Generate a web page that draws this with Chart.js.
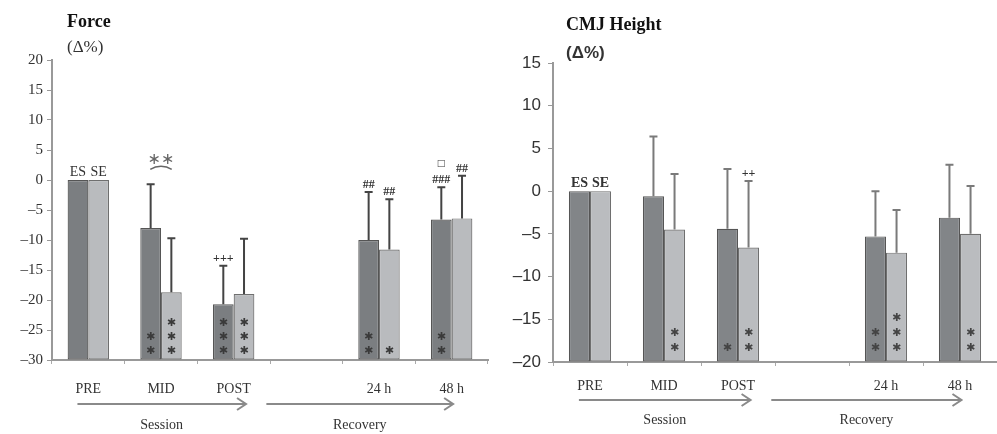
<!DOCTYPE html>
<html>
<head>
<meta charset="utf-8">
<script src="https://cdn.jsdelivr.net/npm/chart.js@4.4.1/dist/chart.umd.min.js"></script>
<style>
  body { margin: 0; background: #fff; }
  .wrap { position: absolute; top: 0; height: 434px; }
</style>
</head>
<body>
<div class="wrap" style="left:0;width:497px"><canvas id="force"></canvas></div>
<div class="wrap" style="left:497px;width:500px"><canvas id="cmj"></canvas></div>
<script>
// categories (empty slot between session and recovery)
const labels = ['PRE', 'MID', 'POST', '', '24 h', '48 h']

// Force (Δ%)
const forceES = [0, -8, -20.7, null, -10, -6.6]
const forceSE = [0, -18.7, -19, null, -11.6, -6.4]
const forceErrES = [0, 7.3, 6.4, null, 8, 5.4]
const forceErrSE = [0, 9, 9.2, null, 8.4, 7.1]
const forceTicks = [-30, -25, -20, -15, -10, -5, 0, 5, 10, 15, 20]
const forceMarkES = ['ES', '', '+++', '', '##', '□\n###']
const forceMarkSE = ['SE', '', '', '', '##', '##']
const forcePair = ['', '**', '', '', '', '']
const forceStarsES = [0, 2, 3, 0, 2, 2]
const forceStarsSE = [0, 3, 3, 0, 1, 0]

// CMJ Height (Δ%)
const cmjES = [0, -0.6, -4.4, null, -5.3, -3.1]
const cmjSE = [0, -4.5, -6.6, null, -7.2, -5]
const cmjErrES = [0, 7, 7, null, 5.3, 6.2]
const cmjErrSE = [0, 6.5, 7.8, null, 5, 5.6]
const cmjTicks = [-20, -15, -10, -5, 0, 5, 10, 15]
const cmjMarkES = ['ES', '', '', '', '', '']
const cmjMarkSE = ['SE', '', '++', '', '', '']
const cmjPair = ['', '', '', '', '', '']
const cmjStarsES = [0, 0, 1, 0, 2, 0]
const cmjStarsSE = [0, 2, 2, 0, 3, 2]

const groups = [
  { text: 'Session', from: -0.15, to: 2.17 },
  { text: 'Recovery', from: 2.45, to: 5.02 }
]

const serif = '"Liberation Serif", "DejaVu Serif", serif'
const sans = '"Liberation Sans", "DejaVu Sans", sans-serif'

function dash(v) {
  return v < 0 ? '\u2013' + Math.abs(v) : '' + v
}

// error bars, significance marks, titles and the arrows under the axis
const extras = {
  id: 'extras',
  afterDatasetsDraw(chart, args, o) {
    const ctx = chart.ctx
    const y = chart.scales.y
    const x = chart.scales.x
    const area = chart.chartArea
    const caps = [[], []]
    ctx.save()
    chart.data.datasets.forEach(function(ds, d) {
      const meta = chart.getDatasetMeta(d)
      meta.data.forEach(function(bar, i) {
        if (ds.data[i] === null) return
        const top = y.getPixelForValue(ds.data[i] + ds.err[i])
        caps[d][i] = top
        if (ds.err[i] > 0) {
          ctx.strokeStyle = o.errColor
          ctx.lineWidth = 2
          ctx.beginPath()
          ctx.moveTo(bar.x, bar.y)
          ctx.lineTo(bar.x, top)
          ctx.moveTo(bar.x - 4, top)
          ctx.lineTo(bar.x + 4, top)
          ctx.stroke()
        }
        // marks above
        const lines = ds.marks[i].split('\n').filter(function(s) { return s })
        ctx.fillStyle = '#333'
        ctx.textAlign = 'center'
        ctx.textBaseline = 'alphabetic'
        lines.reverse().forEach(function(t, k) {
          if (t === 'ES' || t === 'SE') {
            ctx.font = o.esFont
          } else {
            ctx.font = 'bold 12px ' + serif
          }
          ctx.fillText(t, bar.x, top - 4 - k * 16)
        })
        // stars inside the bar
        ctx.font = '11px "DejaVu Sans"'
        ctx.fillStyle = o.starColor
        ctx.textBaseline = 'middle'
        for (let k = 0; k < ds.stars[i]; k++) {
          ctx.fillText('\u2731', bar.x, area.bottom - o.starBottom - k * o.starGap)
        }
      })
    })
    // pair comparison mark
    o.pair.forEach(function(t, i) {
      if (!t) return
      const cx = x.getPixelForValue(i)
      const top = Math.min(caps[0][i], caps[1][i])
      ctx.strokeStyle = '#666'
      ctx.lineWidth = 1.5
      ctx.beginPath()
      ctx.arc(cx, top + 2, 20, Math.PI * 1.32, Math.PI * 1.68)
      ctx.stroke()
      ctx.fillStyle = '#666'
      ctx.font = '16px "DejaVu Sans"'
      ctx.textAlign = 'center'
      ctx.textBaseline = 'alphabetic'
      ctx.fillText(t.replace(/\*/g, '\u2217'), cx, top - 20)
    })
    // arrows and group names
    groups.forEach(function(g) {
      const x1 = x.getPixelForValue(g.from)
      const x2 = x.getPixelForValue(g.to)
      const ay = o.arrowY
      ctx.strokeStyle = '#8a8a8a'
      ctx.lineWidth = 2
      ctx.beginPath()
      ctx.moveTo(x1, ay)
      ctx.lineTo(x2, ay)
      ctx.moveTo(x2 - 9, ay - 6)
      ctx.lineTo(x2, ay)
      ctx.lineTo(x2 - 9, ay + 6)
      ctx.stroke()
      ctx.fillStyle = '#333'
      ctx.font = '14px ' + serif
      ctx.textAlign = 'center'
      ctx.textBaseline = 'middle'
      ctx.fillText(g.text, (x1 + x2) / 2, o.groupY)
    })
    // title
    ctx.fillStyle = '#111'
    ctx.textAlign = 'left'
    ctx.textBaseline = 'middle'
    ctx.font = 'bold 18px ' + serif
    ctx.fillText(o.title, o.titleX, o.titleY)
    ctx.font = o.unitFont
    ctx.fillStyle = '#333'
    ctx.fillText('(\u0394%)', o.titleX, o.titleY + o.unitGap)
    ctx.restore()
  }
}

function makeChart(id, es, se, errES, errSE, markES, markSE, stars1, stars2, ticks, opt) {
  const min = ticks[0]
  const max = ticks[ticks.length - 1]
  return new Chart(document.getElementById(id), {
    type: 'bar',
    data: {
      labels: labels,
      datasets: [
        { label: 'ES', data: es, err: errES, marks: markES, stars: stars1, base: min,
          backgroundColor: opt.colES, borderColor: '#555', borderWidth: 1.2, borderSkipped: false },
        { label: 'SE', data: se, err: errSE, marks: markSE, stars: stars2, base: min,
          backgroundColor: opt.colSE, borderColor: '#6f6f6f', borderWidth: 1.2, borderSkipped: false }
      ]
    },
    options: {
      responsive: true,
      maintainAspectRatio: false,
      animation: false,
      layout: { padding: { left: 0, right: opt.padRight, top: opt.top, bottom: 0 } },
      datasets: { bar: { categoryPercentage: 0.57, barPercentage: 1 } },
      plugins: {
        legend: { display: false },
        tooltip: { enabled: false },
        extras: opt.extras
      },
      scales: {
        x: {
          grid: { display: true, drawOnChartArea: false, drawTicks: true, tickLength: 4, color: '#aaa', offset: true },
          border: { display: true, color: '#999', width: 2 },
          ticks: { color: '#333', font: { family: serif, size: 14 }, padding: opt.labelPad, maxRotation: 0, autoSkip: false },
          afterFit: function(s) { s.height = 434 - opt.bottom }
        },
        y: {
          min: min,
          max: max,
          grid: { drawOnChartArea: false, drawTicks: true, tickLength: 5, color: '#999' },
          border: { display: true, color: '#999', width: 2 },
          ticks: { stepSize: 5, color: '#333', font: opt.tickFont, padding: opt.tickPad,
            callback: function(v) { return dash(v) } },
          afterFit: function(s) { s.width = opt.left }
        }
      }
    },
    plugins: [extras]
  })
}

makeChart('force', forceES, forceSE, forceErrES, forceErrSE, forceMarkES, forceMarkSE,
  forceStarsES, forceStarsSE, forceTicks, {
    colES: '#7b7e81', colSE: '#b9bbbe', padRight: 9, top: 60, bottom: 360, left: 52,
    labelPad: 17, tickPad: 4, tickFont: { family: serif, size: 15 },
    extras: { errColor: '#444', starColor: '#3a3a3a', starBottom: 9, starGap: 14, pair: forcePair,
      esFont: '14px ' + serif, arrowY: 404, groupY: 425, title: 'Force', titleX: 67, titleY: 22,
      unitFont: '17px ' + serif, unitGap: 26 }
  })

makeChart('cmj', cmjES, cmjSE, cmjErrES, cmjErrSE, cmjMarkES, cmjMarkSE,
  cmjStarsES, cmjStarsSE, cmjTicks, {
    colES: '#828588', colSE: '#babcbf', padRight: 0, top: 63, bottom: 362, left: 56,
    labelPad: 12, tickPad: 7, tickFont: { family: sans, size: 17 },
    extras: { errColor: '#7a7a7a', starColor: '#444', starBottom: 14, starGap: 15, pair: cmjPair,
      esFont: 'bold 14px ' + serif, arrowY: 400, groupY: 420, title: 'CMJ Height', titleX: 69, titleY: 25,
      unitFont: 'bold 17px ' + sans, unitGap: 28 }
  })
</script>
</body>
</html>
